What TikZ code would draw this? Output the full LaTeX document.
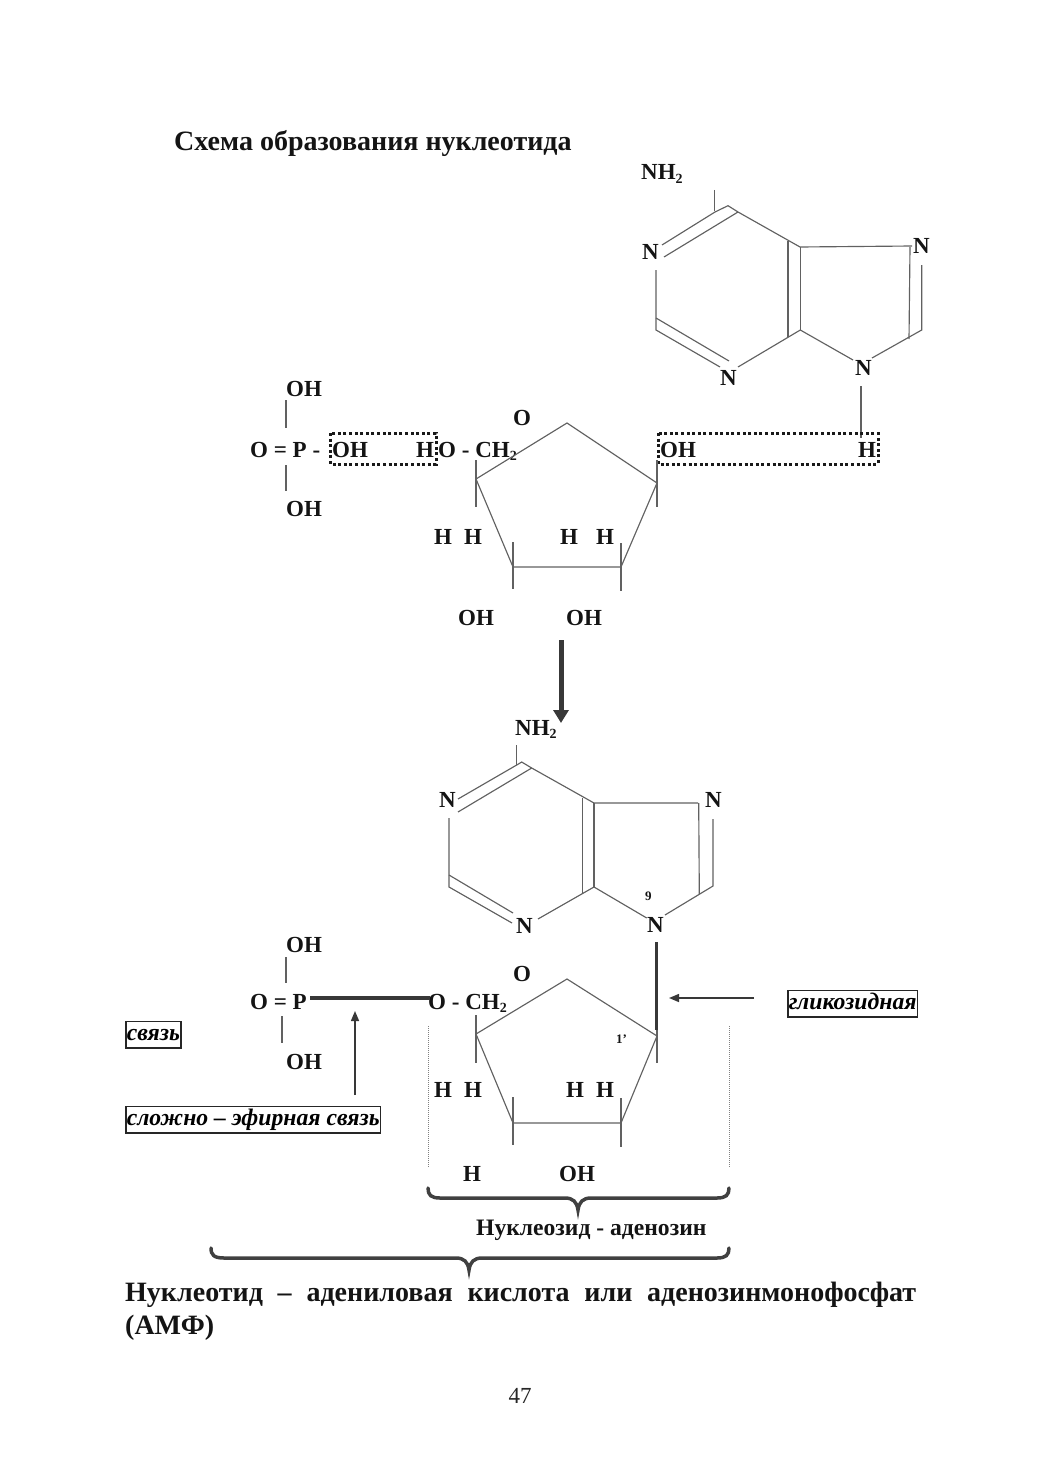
\documentclass[tikz,border=0pt]{standalone}
\usepackage{fontspec}
\setmainfont{Liberation Serif}
\usetikzlibrary{arrows.meta}
\newcommand{\subtwo}{\raisebox{-3.5pt}{\fontsize{14}{14}\selectfont 2}}
\tikzset{
  lbl/.style={anchor=base west,inner sep=0pt,text=black!92,font=\fontsize{23}{23}\selectfont\bfseries},
  tiny/.style={anchor=base west,inner sep=0pt,text=black!92,font=\fontsize{13}{13}\selectfont\bfseries},
  bond/.style={draw=black!62,line width=1.15pt,line join=miter},
  tick/.style={draw=black!62,line width=1.15pt},
  dotbox/.style={draw=black!90,line width=3pt,dash pattern=on 3pt off 2.6pt},
  guide/.style={draw=black!50,line width=0.8pt,dash pattern=on 1pt off 1pt},
  brace/.style={draw=black!75,line width=3.5pt,line cap=round},
  tagbox/.style={draw=black!85,line width=1.5pt,inner xsep=1pt,inner ysep=2pt,text height=16.5pt,text depth=6pt,text=black,font=\fontsize{23.7}{23.7}\selectfont\bfseries\itshape},
  heavy/.style={draw=black!78,line width=3.6pt},
  thinarrow/.style={draw=black!78,line width=1.5pt,-{Triangle[length=10pt,width=8pt]}},
  bigarrow/.style={draw=black!78,line width=5pt,-{Triangle[length=13pt,width=15pt]}},
}
\begin{document}
\begin{tikzpicture}[x=1pt,y=-1pt]
\useasboundingbox (0,0) rectangle (1039,1471);

% title
\node[lbl,font=\fontsize{28}{28}\selectfont\bfseries] (title) at (174,151) {Схема образования нуклеотида};

% ---- upper adenine
\node[lbl] (nh2a) at (641,180) {NH\subtwo};
\node[lbl] (n1a) at (642,259) {N};
\node[lbl] (n3a) at (720,385) {N};
\node[lbl] (n7a) at (913,254) {N};
\node[lbl] (n9a) at (855,375) {N};
\draw[tick] (714.7,190) -- (714.7,211);
\draw[bond] (662,245) -- (715,212) -- (728,205.7) -- (738,212) -- (800,247) -- (912,246);
\draw[bond] (664,257) -- (738,212);
\draw[bond] (788,241) -- (788,337);
\draw[bond] (800.3,247) -- (800.3,330);
\draw[bond] (910,247) -- (909,339);
\draw[bond] (921.7,265) -- (921.7,330) -- (872,358);
\draw[bond] (800.3,330) -- (853,360);
\draw[bond] (800.3,330) -- (738,367);
\draw[bond] (656,270) -- (656,330) -- (720,367);
\draw[bond] (656,318) -- (729,361);
\draw[tick] (861,386) -- (861,438);

% ---- upper phosphate
\node[lbl] (oh1) at (286,396) {OH};
\node[lbl] (op1) at (250,457) {O = P -};
\node[lbl] (oh2) at (332,457) {OH};
\node[lbl] (h1) at (416,457) {H};
\node[lbl] (och1) at (438,457) {O - CH\subtwo};
\node[lbl] (oh3) at (286,516) {OH};
\draw[tick] (286,400) -- (286,428);
\draw[tick] (286,465) -- (286,491);
\draw[dotbox] (330,433) rectangle (436,464);
\draw[dotbox] (658,433) rectangle (878,464);
\node[lbl] (oh4) at (660,457) {OH};
\node[lbl] (h2) at (858,457) {H};

% ---- upper sugar
\node[lbl] (o1) at (513,425) {O};
\draw[bond] (476,479) -- (567,423) -- (657,483) -- (621,567) -- (513,567) -- cycle;
\draw[tick] (476,460) -- (476,507);
\draw[tick] (657,460) -- (657,507);
\draw[tick] (513,542) -- (513,589);
\draw[tick] (621,543) -- (621,591);
\node[lbl] (ha1) at (434,544) {H};
\node[lbl] (ha2) at (464,544) {H};
\node[lbl] (ha3) at (560,544) {H};
\node[lbl] (ha4) at (596,544) {H};
\node[lbl] (oh5) at (458,625) {OH};
\node[lbl] (oh6) at (566,625) {OH};

% reaction arrow
\coordinate (rs) at (561,640);
\coordinate (re) at (561,723);
\draw[bigarrow] (rs) -- (re);

% ---- lower adenine
\node[lbl] (nh2b) at (515,735) {NH\subtwo};
\node[lbl] (n1b) at (439,807) {N};
\node[lbl] (n3b) at (516,933) {N};
\node[lbl] (n7b) at (705,807) {N};
\node[lbl] (n9b) at (647,932) {N};
\node[tiny] (nine) at (645,900) {9};
\draw[tick] (516.7,745) -- (516.7,765);
\draw[bond] (458,799) -- (516.7,765) -- (521.7,762) -- (531.7,768) -- (594,803) -- (698,803);
\draw[bond] (458,812) -- (531.7,768);
\draw[bond] (582.3,798) -- (582.3,894);
\draw[bond] (594,803) -- (594,887);
\draw[bond] (698.7,803) -- (699.3,894);
\draw[bond] (713,819) -- (713,886) -- (665,915);
\draw[bond] (594,887) -- (646.7,918);
\draw[bond] (594,887) -- (538,919);
\draw[bond] (449,818) -- (449,887) -- (512,923);
\draw[bond] (449,875) -- (513,913);

% ---- lower phosphate
\node[lbl] (oh7) at (286,952) {OH};
\node[lbl] (op2) at (250,1009) {O = P};
\node[lbl] (och2) at (428,1009) {O - CH\subtwo};
\node[lbl] (oh8) at (286,1069) {OH};
\draw[tick] (286,957) -- (286,983);
\draw[tick] (282,1016) -- (282,1043);
\coordinate (pbar) at (310,998);
\coordinate (obar) at (430,998);
\draw[heavy] (pbar) -- (obar);

% ---- lower sugar
\node[lbl] (o2) at (513,981) {O};
\draw[bond] (476,1034) -- (567,979) -- (657,1036) -- (621,1123) -- (513,1123) -- cycle;
\draw[tick] (476,1015) -- (476,1063);
\draw[tick] (657,1030) -- (657,1063);
\draw[tick] (513,1097) -- (513,1145);
\draw[tick] (621,1098) -- (621,1147);
\draw[heavy] (656.5,942) -- (656.5,1030);
\node[tiny] (onep) at (616,1043) {1'};
\node[lbl] (hb1) at (434,1097) {H};
\node[lbl] (hb2) at (464,1097) {H};
\node[lbl] (hb3) at (566,1097) {H};
\node[lbl] (hb4) at (596,1097) {H};
\node[lbl] (hb5) at (463,1181) {H};
\node[lbl] (oh9) at (559,1181) {OH};

% ---- tags and arrows
\node[tagbox,anchor=base west] (glyc) at (787,1009) {гликозидная};
\node[tagbox,anchor=base west] (svz) at (125,1040) {связь};
\node[tagbox,anchor=base west] (est) at (125,1125) {сложно – эфирная связь};
\coordinate (gt) at (669,998);
\coordinate (gs) at (754,998);
\coordinate (et) at (355,1011);
\coordinate (es) at (355,1095);
\draw[thinarrow] (gs) -- (gt);
\draw[thinarrow] (es) -- (et);

% ---- guides and braces
\draw[guide] (428,1026) -- (428,1168);
\draw[guide] (729,1026) -- (729,1168);
\draw[brace] (428,1188) .. controls (428,1195) and (431,1198) .. (440,1198) -- (565,1198)
  .. controls (573,1198) and (577,1202) .. (578,1210)
  .. controls (579,1202) and (583,1198) .. (591,1198) -- (717,1198)
  .. controls (726,1198) and (729,1195) .. (729,1188);
\node[lbl,font=\fontsize{23.6}{23.6}\selectfont\bfseries] (nucl) at (476,1235) {Нуклеозид - аденозин};
\draw[brace] (211,1248) .. controls (211,1255) and (214,1258) .. (224,1258) -- (456,1258)
  .. controls (464,1258) and (468,1262) .. (469,1270)
  .. controls (470,1262) and (474,1258) .. (482,1258) -- (717,1258)
  .. controls (726,1258) and (729,1255) .. (729,1248);

% ---- caption
\node[anchor=north west,inner sep=0pt,text width=791pt,align=justify,text=black!92,
  font=\fontsize{28}{33}\selectfont\bfseries] (capt) at (125,1282)
  {Нуклеотид – адениловая кислота или аденозинмонофосфат\linebreak (АМФ)};
\node[anchor=base,inner sep=0pt,text=black!85,font=\fontsize{23}{23}\selectfont] (page) at (520,1403) {47};
\end{tikzpicture}
\end{document}
